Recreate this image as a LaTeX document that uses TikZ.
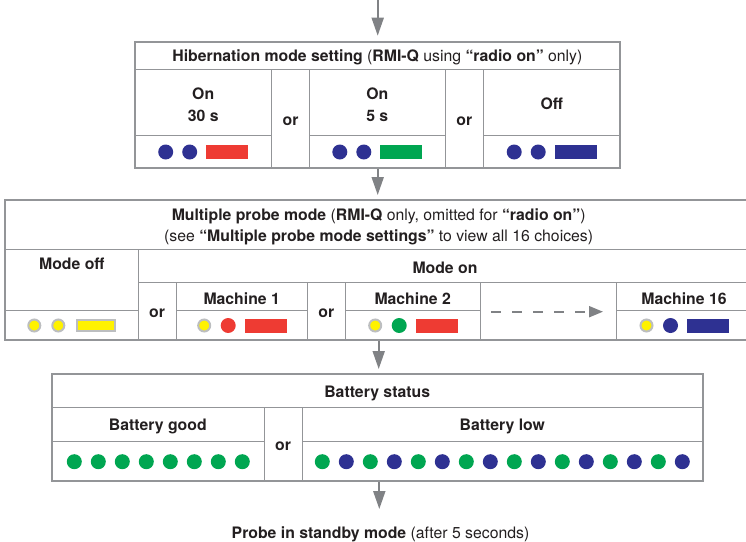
\documentclass[tikz,border=0pt]{standalone}
\usepackage{fontspec}
\setmainfont{TeX Gyre Heros}
\usetikzlibrary{arrows.meta}
\definecolor{navy}{HTML}{2E3192}
\definecolor{ledred}{HTML}{EE3B33}
\definecolor{ledgreen}{HTML}{00A651}
\definecolor{ledyellow}{HTML}{FFF200}
\definecolor{ringgray}{HTML}{BCBEC0}
\definecolor{linegray}{HTML}{939598}
\definecolor{arrowgray}{HTML}{808285}
\definecolor{txt}{HTML}{231F20}
\newcommand\ledtrio[6]{%
  \node[#4] (#1a) at (#2-37.5,#3) {};
  \node[#5] (#1b) at (#2-13.5,#3) {};
  \node[#6] (#1c) at (#2+24,#3) {};}
\begin{document}
\begin{tikzpicture}[x=1pt,y=-1pt,
  outerbox/.style={draw=linegray, line width=2pt, inner sep=0pt},
  inner/.style={draw=linegray, line width=1pt},
  lbl/.style={text=txt, inner sep=0pt, yshift=-1.5pt, font=\fontsize{15.8}{21}\selectfont, align=center},
  bl/.style={lbl, font=\fontsize{15.8}{21.6}\selectfont\bfseries},
  arr/.style={draw=arrowgray, line width=2pt, -{Triangle[length=18pt,width=12pt]}},
  dot/.style={circle, inner sep=0pt, minimum size=15pt},
  dnavy/.style={dot, fill=navy},
  dgreen/.style={dot, fill=ledgreen},
  dred/.style={dot, fill=ledred},
  dyel/.style={circle, inner sep=0pt, minimum size=12pt, fill=ledyellow, draw=ringgray, line width=2pt},
  bar/.style={rectangle, inner sep=0pt, minimum width=42pt, minimum height=14pt},
  rred/.style={bar, fill=ledred},
  rgreen/.style={bar, fill=ledgreen},
  rnavy/.style={bar, fill=navy},
  ryel/.style={rectangle, inner sep=0pt, minimum width=38pt, minimum height=11pt, fill=ledyellow, draw=ringgray, line width=2.2pt}
]
\useasboundingbox (0,0) rectangle (746,541);
\clip (0,0) rectangle (746,541);

% ---------- Hibernation box ----------
\node[outerbox, minimum width=485.3pt, minimum height=126.6pt] (hib) at (377.35,105) {};
\draw[inner] (134.7,69.3) -- (620,69.3);
\draw[inner] (134.7,135) -- (271.7,135) (309.3,135) -- (445.3,135) (483.3,135) -- (620,135);
\foreach \x in {271.7,309.3,445.3,483.3} \draw[inner] (\x,69.3) -- (\x,168.3);
\node[lbl] (hibt) at (377.35,55.5) {\textbf{Hibernation mode setting} (\textbf{RMI-Q} using \textbf{“radio on”} only)};
\node[bl] (h1t) at (203.2,103.5) {On\\30 s};
\node[bl] (h2t) at (377.3,103.5) {On\\5 s};
\node[bl] (h3t) at (551.7,102) {Off};
\node[bl] (hor1) at (290.5,120) {or};
\node[bl] (hor2) at (464.3,120) {or};
\ledtrio{h1}{203.2}{152}{dnavy}{dnavy}{rred}
\ledtrio{h2}{377.3}{152}{dnavy}{dnavy}{rgreen}
\ledtrio{h3}{551.7}{152}{dnavy}{dnavy}{rnavy}

% ---------- Multiple probe box ----------
\node[outerbox, minimum width=746.7pt, minimum height=140pt] (mp) at (378.65,270) {};
\draw[inner] (5.3,249.3) -- (752,249.3);
\draw[inner] (138.3,249.3) -- (138.3,340);
\draw[inner] (5.3,310) -- (138.3,310);
\draw[inner] (138.3,282.7) -- (752,282.7);
\foreach \x in {176,307.3,345.3,480,616.3} \draw[inner] (\x,282.7) -- (\x,340);
\draw[inner] (176,310.7) -- (307.3,310.7) (345.3,310.7) -- (480,310.7) (616.3,310.7) -- (752,310.7);
\node[lbl, font=\fontsize{15.8}{20.7}\selectfont] (mpt) at (378.65,225.3) {\textbf{Multiple probe mode} (\textbf{RMI-Q} only, omitted for \textbf{“radio on”})\\(see \textbf{“Multiple probe mode settings”} to view all 16 choices)};
\node[bl] (moff) at (71.8,262.3) {Mode off};
\node[bl] (mon) at (445,266.3) {Mode on};
\node[bl] (mor1) at (157,311.5) {or};
\node[bl] (mor2) at (326.3,311.5) {or};
\node[bl] (m1) at (241.7,296.7) {Machine 1};
\node[bl] (m2) at (412.7,296.7) {Machine 2};
\node[bl] (m16) at (684,296.7) {Machine 16};
\ledtrio{mo}{71.8}{325.5}{dyel}{dyel}{ryel}
\ledtrio{ma}{241.7}{325.5}{dyel}{dred}{rred}
\ledtrio{mb}{412.7}{325.5}{dyel}{dgreen}{rred}
\ledtrio{mc}{684}{325.5}{dyel}{dnavy}{rnavy}
\coordinate (dsA) at (491.3,311.7);
\coordinate (dsB) at (603,311.7);
\draw[draw=arrowgray, line width=2pt, dash pattern=on 10pt off 11pt, -{Triangle[length=14pt,width=11pt]}] (dsA) -- (dsB);

% ---------- Battery box ----------
\node[outerbox, minimum width=651pt, minimum height=107pt] (bat) at (377.2,427.5) {};
\draw[inner] (51.7,407.7) -- (702.7,407.7);
\draw[inner] (51.7,441) -- (264,441) (302,441) -- (702.7,441);
\foreach \x in {264,302} \draw[inner] (\x,407.7) -- (\x,481);
\node[bl] (bst) at (377.2,391.5) {Battery status};
\node[bl] (bg) at (157.8,424.7) {Battery good};
\node[bl] (blw) at (502.3,424.7) {Battery low};
\node[bl] (bor) at (283,445) {or};
\foreach \i in {0,...,7} \node[dgreen] (g\i) at (74.3+24*\i,461.7) {};
\foreach \i in {0,...,15} {
  \pgfmathsetmacro\c{mod(\i,2)==0 ? "ledgreen" : "navy"}
  \node[dot, fill=\c] (l\i) at (322.3+24*\i,461.7) {};
}

% ---------- Final text ----------
\node[lbl] (fin) at (380.5,532.7) {\textbf{Probe in standby mode} (after 5 seconds)};

% ---------- Arrows ----------
\coordinate (start) at (377.7,0);
\draw[arr, shorten >=5pt] (start) -- (start |- hib.north);
\draw[arr, shorten >=4pt] (hib.south -| start) -- (start |- mp.north);
\coordinate (a2) at (378.7,0);
\draw[arr, shorten >=4pt] (a2 |- mp.south) -- (a2 |- bat.north);
\coordinate (a3) at (379.3,0);
\coordinate (a3end) at (379.3,509);
\draw[arr] (a3 |- bat.south) -- (a3end);
\end{tikzpicture}
\end{document}
